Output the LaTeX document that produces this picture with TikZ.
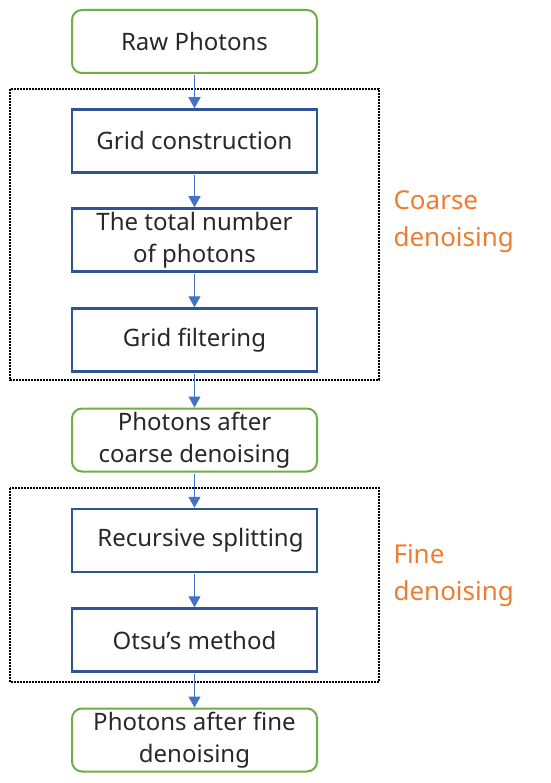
\documentclass[tikz,border=0pt]{standalone}
\usepackage{fontspec}
\setmainfont{Noto Sans}
\usetikzlibrary{arrows.meta}
\definecolor{boxgreen}{RGB}{112,173,71}
\definecolor{boxblue}{RGB}{47,85,151}
\definecolor{arrblue}{RGB}{68,114,196}
\definecolor{lblorange}{RGB}{237,125,49}
\definecolor{txtgray}{RGB}{40,40,40}
\begin{document}
\begin{tikzpicture}[x=1pt, y=-1pt,
      data/.style={draw=boxgreen, line width=2pt, rounded corners=10pt, minimum width=245pt, minimum height=63pt,
                   align=center, text=txtgray, font=\fontsize{24}{32}\selectfont, inner sep=0pt},
      proc/.style={draw=boxblue, line width=2.5pt, minimum width=245pt, minimum height=63pt,
                   align=center, text=txtgray, font=\fontsize{24}{32}\selectfont, inner sep=0pt},
      arr/.style={draw=arrblue, line width=1.2pt, -{Triangle[width=12pt,length=11pt]}, shorten <=1pt},
      group/.style={draw=black, line width=2pt, dash pattern=on 1.6pt off 1.4pt},
      stage/.style={anchor=west, align=left, text=lblorange, font=\fontsize{26}{37}\selectfont}]
      \useasboundingbox (0, 0) rectangle (550, 783);
      \draw [group] (10, 89) rectangle (379, 380)
                    (10, 488) rectangle (379, 682);
      \node (raw) [data] at (194.5, 41.5) {Raw Photons};
      \node (grid) [proc] at (194.5, 141) {Grid construction};
      \node (total) [proc] at (194.5, 240) {The total number\\of photons};
      \node (filter) [proc] at (194.5, 340) {Grid filtering};
      \node (coarse) [data] at (194.5, 440) {Photons after\\coarse denoising};
      \node (split) [proc] at (194.5, 540.5) {\hspace{12pt}Recursive splitting};
      \node (otsu) [proc] at (194.5, 640) {Otsu’s method};
      \node (fine) [data] at (194.5, 740) {Photons after fine\\denoising};
      \node (coarselbl) [stage] at (390, 222) {Coarse\\denoising};
      \node (finelbl) [stage] at (390, 576) {Fine\\denoising};
      \draw [arr] (raw) -- (grid);
      \draw [arr] (grid) -- (total);
      \draw [arr] (total) -- (filter);
      \draw [arr] (filter) -- (coarse);
      \draw [arr] (coarse) -- (split);
      \draw [arr] (split) -- (otsu);
      \draw [arr] (otsu) -- (fine);
\end{tikzpicture}
\end{document}
